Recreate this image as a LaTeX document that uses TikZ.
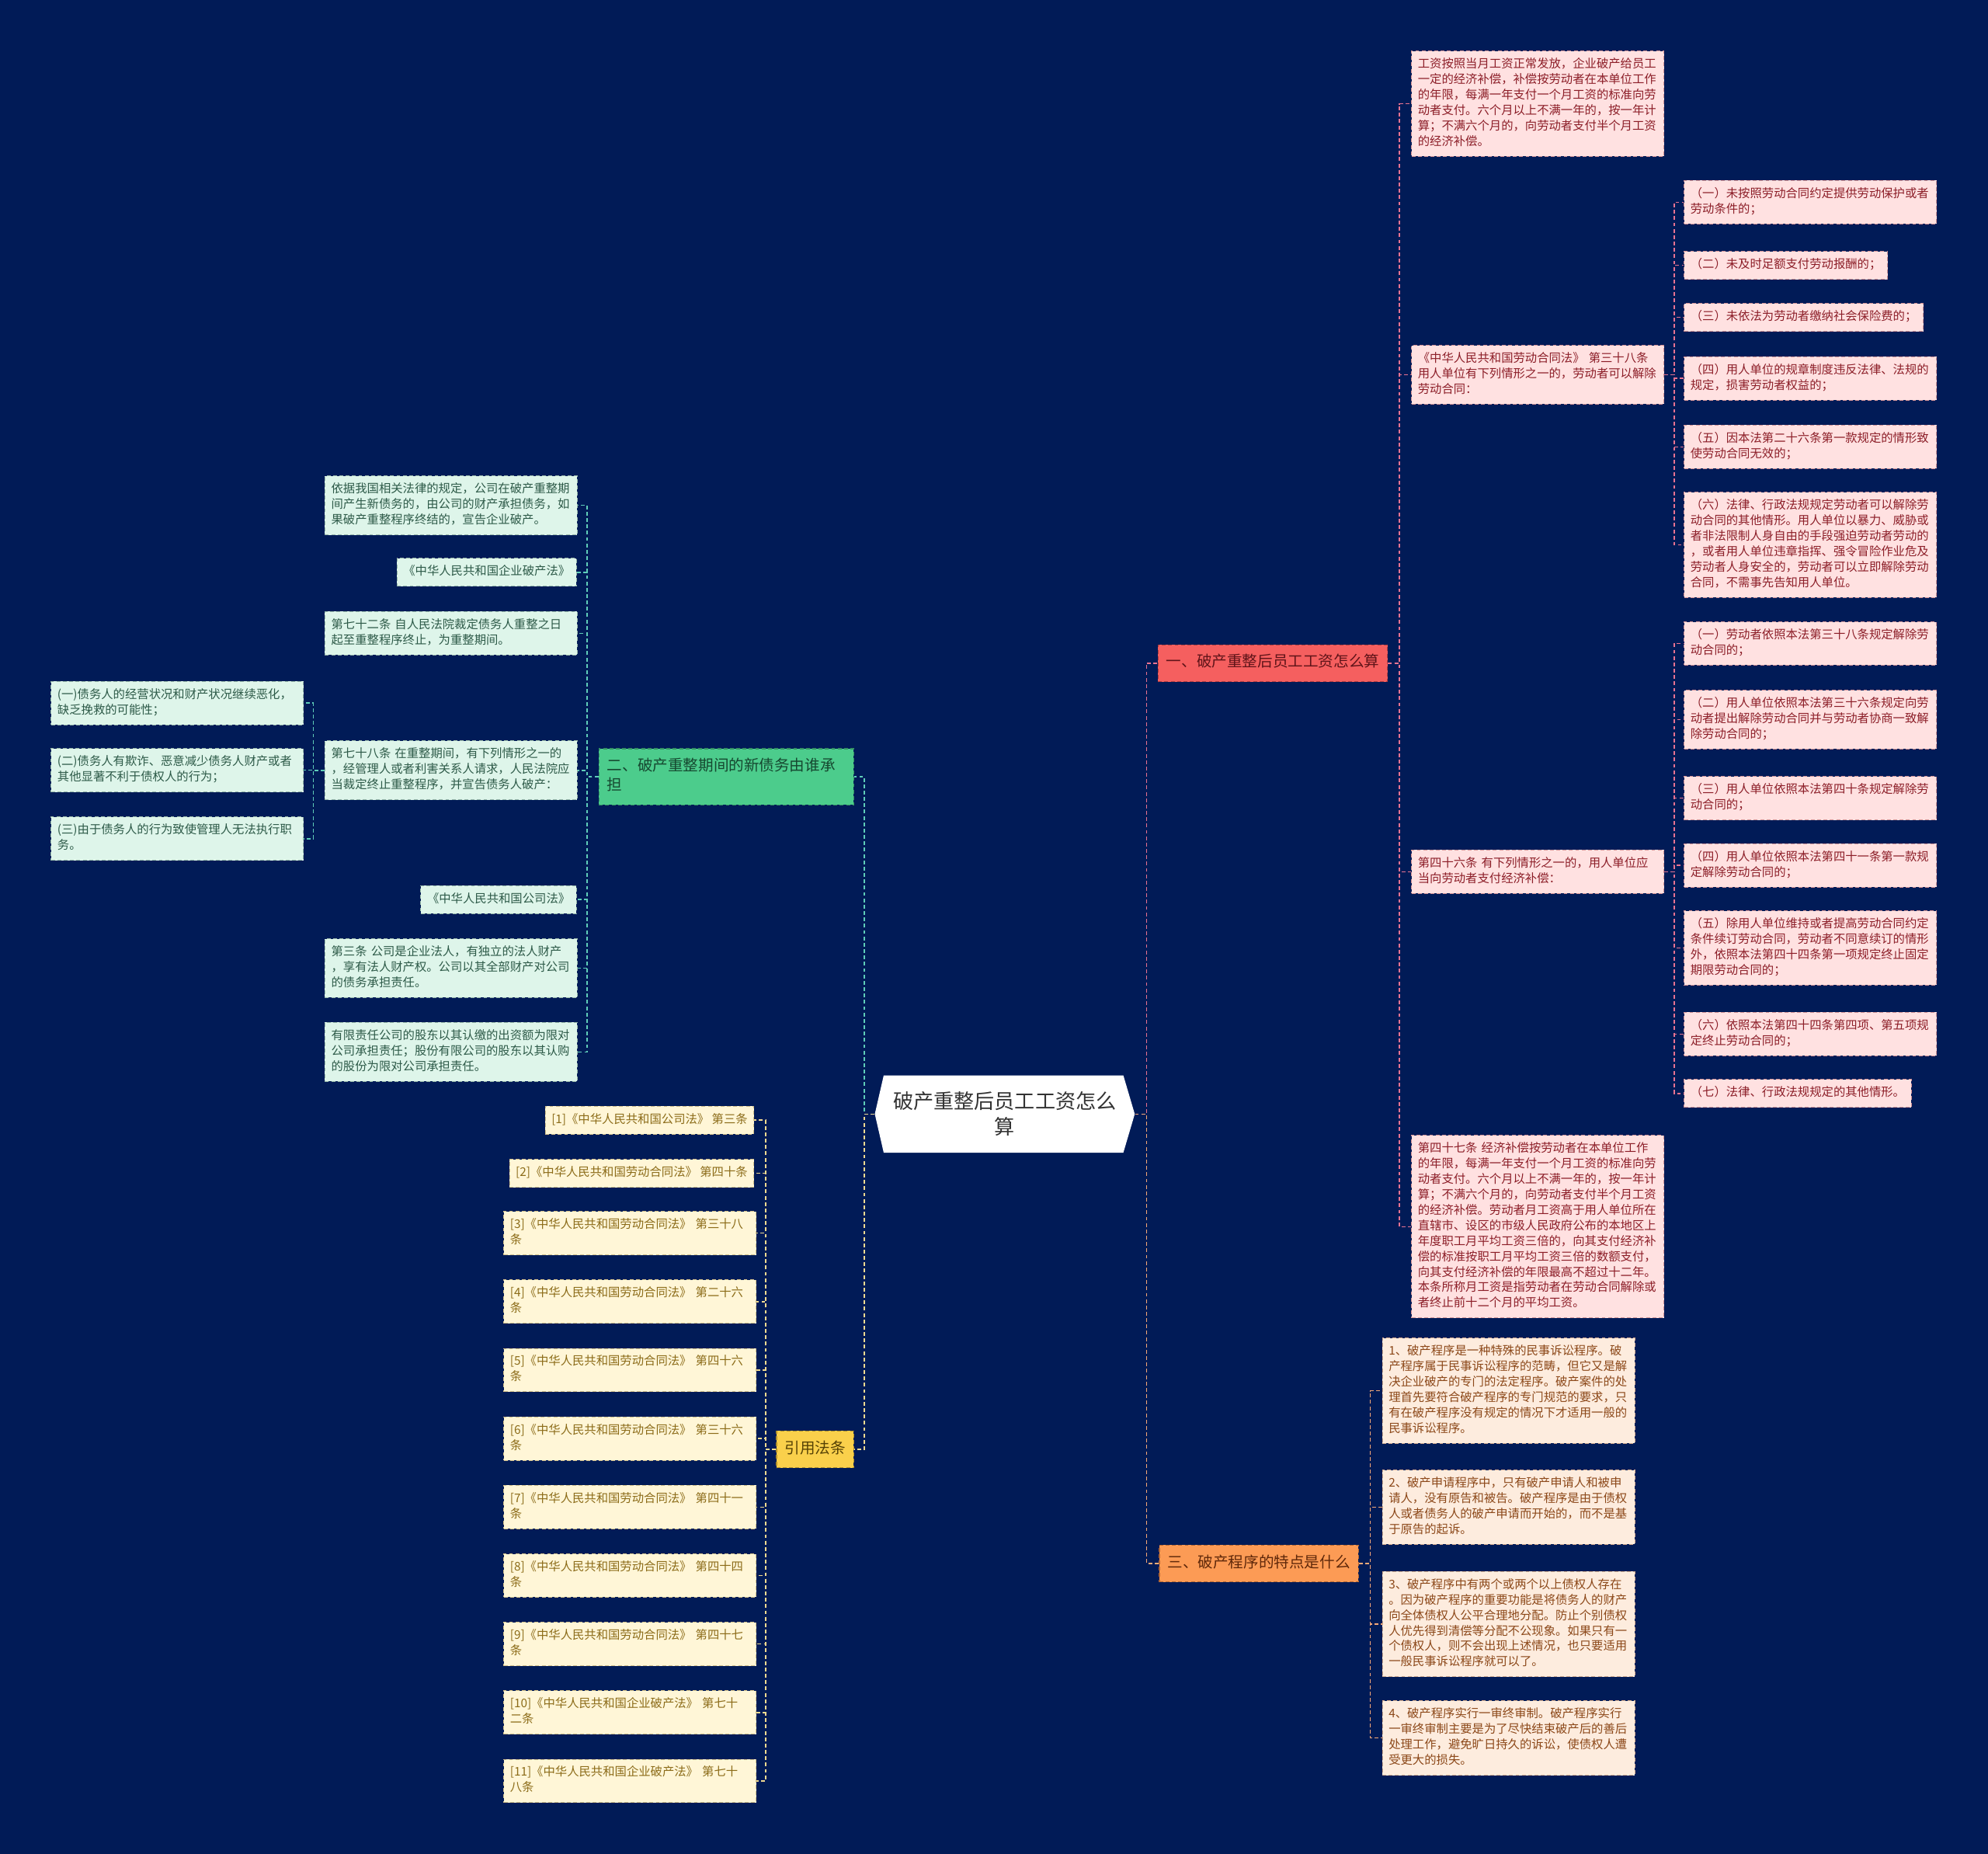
\documentclass[tikz,border=0pt]{standalone}
\usepackage{fontspec}
\newfontfamily\cjk{Noto Sans CJK SC}
\usepackage{tikz}
\usetikzlibrary{positioning}

\definecolor{bgnavy}{RGB}{1,27,87}
\definecolor{redfill}{RGB}{245,95,95}
\definecolor{redtext}{RGB}{95,20,25}
\definecolor{pinkfill}{RGB}{255,225,225}
\definecolor{pinktext}{RGB}{140,30,40}
\definecolor{pinkline}{RGB}{232,115,145}
\definecolor{greenfill}{RGB}{76,204,140}
\definecolor{greentext}{RGB}{22,72,48}
\definecolor{mintfill}{RGB}{222,245,234}
\definecolor{minttext}{RGB}{45,90,72}
\definecolor{greenline}{RGB}{95,205,185}
\definecolor{yellowfill}{RGB}{250,208,75}
\definecolor{yellowtext}{RGB}{85,65,5}
\definecolor{creamfill}{RGB}{255,246,215}
\definecolor{creamtext}{RGB}{140,108,25}
\definecolor{yellowline}{RGB}{240,218,145}
\definecolor{orangefill}{RGB}{252,155,85}
\definecolor{orangetext}{RGB}{95,40,10}
\definecolor{peachfill}{RGB}{253,236,222}
\definecolor{peachtext}{RGB}{140,72,25}
\definecolor{orangeline}{RGB}{246,170,120}

\begin{document}
\begin{tikzpicture}[x=1pt,y=-1pt,
    box/.style={draw,line width=0.6pt,dash pattern=on 3pt off 2pt,inner xsep=5pt,inner ysep=4.9pt,
      anchor=north west,font=\cjk\fontsize{9.4}{12.2}\selectfont,
      execute at begin node=\strut,execute at end node=\strut},
    wide/.style={text width=189pt,align=left},
    pinkbox/.style={box,fill=pinkfill,draw=pinktext!40!pinkfill,text=pinktext},
    mintbox/.style={box,fill=mintfill,draw=minttext!40!mintfill,text=minttext},
    creambox/.style={box,fill=creamfill,draw=creamtext!40!creamfill,text=creamtext},
    peachbox/.style={box,fill=peachfill,draw=peachtext!40!peachfill,text=peachtext},
    branch/.style={draw,line width=0.8pt,dash pattern=on 3pt off 2pt,inner xsep=6.5pt,inner ysep=6.85pt,
      anchor=west,font=\cjk\fontsize{12}{15.3}\selectfont,
      execute at begin node=\strut,execute at end node=\strut},
    link/.style={line width=0.9pt,dash pattern=on 3pt off 2pt}]

    \fill[bgnavy] (0,0) rectangle (1568,1462);

    % centre
    \fill[white] (697,848) -- (886,848) -- (895,878.5) -- (886,909) -- (697,909) -- (690,878.5) -- cycle;
    \node[font=\cjk\fontsize{16}{20.5}\selectfont,text=black!80,align=center,minimum width=205pt,minimum height=61pt,inner sep=0pt]
      (root) at (792.5,878.5) {破产重整后员工工资怎么\\算};

    % branches
    \node[branch,fill=redfill,draw=redtext!45!redfill,text=redtext] (b1) at (913,523) {一、破产重整后员工工资怎么算};
    \node[branch,fill=greenfill,draw=greentext!45!greenfill,text=greentext,text width=188pt,align=left,anchor=north west]
      (b2) at (472,590) {二、破产重整期间的新债务由谁承\\担};
    \node[branch,fill=orangefill,draw=orangetext!45!orangefill,text=orangetext] (b3) at (914,1233) {三、破产程序的特点是什么};
    \node[branch,fill=yellowfill,draw=yellowtext!45!yellowfill,text=yellowtext] (b4) at (612,1143) {引用法条};

    % branch one
    \node[pinkbox,wide] (wage) at (1113,40) {工资按照当月工资正常发放，企业破产给员工\\一定的经济补偿，补偿按劳动者在本单位工作\\的年限，每满一年支付一个月工资的标准向劳\\动者支付。六个月以上不满一年的，按一年计\\算；不满六个月的，向劳动者支付半个月工资\\的经济补偿。};
    \node[pinkbox,wide] (art38) at (1113,272) {《中华人民共和国劳动合同法》 第三十八条\\用人单位有下列情形之一的，劳动者可以解除\\劳动合同：};
    \node[pinkbox,wide] (art46) at (1113,670) {第四十六条 有下列情形之一的，用人单位应\\当向劳动者支付经济补偿：};
    \node[pinkbox,wide] (art47) at (1113,895) {第四十七条 经济补偿按劳动者在本单位工作\\的年限，每满一年支付一个月工资的标准向劳\\动者支付。六个月以上不满一年的，按一年计\\算；不满六个月的，向劳动者支付半个月工资\\的经济补偿。劳动者月工资高于用人单位所在\\直辖市、设区的市级人民政府公布的本地区上\\年度职工月平均工资三倍的，向其支付经济补\\偿的标准按职工月平均工资三倍的数额支付，\\向其支付经济补偿的年限最高不超过十二年。\\本条所称月工资是指劳动者在劳动合同解除或\\者终止前十二个月的平均工资。};

    \node[pinkbox,wide] (art38a) at (1328,142) {（一）未按照劳动合同约定提供劳动保护或者\\劳动条件的；};
    \node[pinkbox] (art38b) at (1328,198) {（二）未及时足额支付劳动报酬的；};
    \node[pinkbox] (art38c) at (1328,239) {（三）未依法为劳动者缴纳社会保险费的；};
    \node[pinkbox,wide] (art38d) at (1328,281) {（四）用人单位的规章制度违反法律、法规的\\规定，损害劳动者权益的；};
    \node[pinkbox,wide] (art38e) at (1328,335) {（五）因本法第二十六条第一款规定的情形致\\使劳动合同无效的；};
    \node[pinkbox,wide] (art38f) at (1328,388) {（六）法律、行政法规规定劳动者可以解除劳\\动合同的其他情形。用人单位以暴力、威胁或\\者非法限制人身自由的手段强迫劳动者劳动的\\，或者用人单位违章指挥、强令冒险作业危及\\劳动者人身安全的，劳动者可以立即解除劳动\\合同，不需事先告知用人单位。};

    \node[pinkbox,wide] (art46a) at (1328,490) {（一）劳动者依照本法第三十八条规定解除劳\\动合同的；};
    \node[pinkbox,wide] (art46b) at (1328,544) {（二）用人单位依照本法第三十六条规定向劳\\动者提出解除劳动合同并与劳动者协商一致解\\除劳动合同的；};
    \node[pinkbox,wide] (art46c) at (1328,612) {（三）用人单位依照本法第四十条规定解除劳\\动合同的；};
    \node[pinkbox,wide] (art46d) at (1328,665) {（四）用人单位依照本法第四十一条第一款规\\定解除劳动合同的；};
    \node[pinkbox,wide] (art46e) at (1328,718) {（五）除用人单位维持或者提高劳动合同约定\\条件续订劳动合同，劳动者不同意续订的情形\\外，依照本法第四十四条第一项规定终止固定\\期限劳动合同的；};
    \node[pinkbox,wide] (art46f) at (1328,798) {（六）依照本法第四十四条第四项、第五项规\\定终止劳动合同的；};
    \node[pinkbox] (art46g) at (1328,851) {（七）法律、行政法规规定的其他情形。};

    % branch two
    \node[mintbox,wide] (debtA) at (256,375) {依据我国相关法律的规定，公司在破产重整期\\间产生新债务的，由公司的财产承担债务，如\\果破产重整程序终结的，宣告企业破产。};
    \node[mintbox,anchor=north east] (debtB) at (455,440) {《中华人民共和国企业破产法》};
    \node[mintbox,wide] (debtC) at (256,482) {第七十二条 自人民法院裁定债务人重整之日\\起至重整程序终止，为重整期间。};
    \node[mintbox,wide] (debtD) at (256,584) {第七十八条 在重整期间，有下列情形之一的\\，经管理人或者利害关系人请求，人民法院应\\当裁定终止重整程序，并宣告债务人破产：};
    \node[mintbox,anchor=north east] (debtE) at (455,698) {《中华人民共和国公司法》};
    \node[mintbox,wide] (debtF) at (256,740) {第三条 公司是企业法人，有独立的法人财产\\，享有法人财产权。公司以其全部财产对公司\\的债务承担责任。};
    \node[mintbox,wide] (debtG) at (256,806) {有限责任公司的股东以其认缴的出资额为限对\\公司承担责任；股份有限公司的股东以其认购\\的股份为限对公司承担责任。};

    \node[mintbox,wide] (debtD1) at (40,537) {(一)债务人的经营状况和财产状况继续恶化，\\缺乏挽救的可能性；};
    \node[mintbox,wide] (debtD2) at (40,590) {(二)债务人有欺诈、恶意减少债务人财产或者\\其他显著不利于债权人的行为；};
    \node[mintbox,wide] (debtD3) at (40,644) {(三)由于债务人的行为致使管理人无法执行职\\务。};

    % branch three
    \node[peachbox,wide] (proc1) at (1090,1055) {1、破产程序是一种特殊的民事诉讼程序。破\\产程序属于民事诉讼程序的范畴，但它又是解\\决企业破产的专门的法定程序。破产案件的处\\理首先要符合破产程序的专门规范的要求，只\\有在破产程序没有规定的情况下才适用一般的\\民事诉讼程序。};
    \node[peachbox,wide] (proc2) at (1090,1159) {2、破产申请程序中，只有破产申请人和被申\\请人，没有原告和被告。破产程序是由于债权\\人或者债务人的破产申请而开始的，而不是基\\于原告的起诉。};
    \node[peachbox,wide] (proc3) at (1090,1239) {3、破产程序中有两个或两个以上债权人存在\\。因为破产程序的重要功能是将债务人的财产\\向全体债权人公平合理地分配。防止个别债权\\人优先得到清偿等分配不公现象。如果只有一\\个债权人，则不会出现上述情况，也只要适用\\一般民事诉讼程序就可以了。};
    \node[peachbox,wide] (proc4) at (1090,1341) {4、破产程序实行一审终审制。破产程序实行\\一审终审制主要是为了尽快结束破产后的善后\\处理工作，避免旷日持久的诉讼，使债权人遭\\受更大的损失。};

    % citations
    \node[creambox,anchor=north east] (cite1) at (595,872) {[1]《中华人民共和国公司法》 第三条};
    \node[creambox,anchor=north east] (cite2) at (595,914) {[2]《中华人民共和国劳动合同法》 第四十条};
    \node[creambox,wide] (cite3) at (397,955) {[3]《中华人民共和国劳动合同法》 第三十八\\条};
    \node[creambox,wide] (cite4) at (397,1009) {[4]《中华人民共和国劳动合同法》 第二十六\\条};
    \node[creambox,wide] (cite5) at (397,1063) {[5]《中华人民共和国劳动合同法》 第四十六\\条};
    \node[creambox,wide] (cite6) at (397,1117) {[6]《中华人民共和国劳动合同法》 第三十六\\条};
    \node[creambox,wide] (cite7) at (397,1171) {[7]《中华人民共和国劳动合同法》 第四十一\\条};
    \node[creambox,wide] (cite8) at (397,1225) {[8]《中华人民共和国劳动合同法》 第四十四\\条};
    \node[creambox,wide] (cite9) at (397,1279) {[9]《中华人民共和国劳动合同法》 第四十七\\条};
    \node[creambox,wide] (cite10) at (397,1333) {[10]《中华人民共和国企业破产法》 第七十\\二条};
    \node[creambox,wide] (cite11) at (397,1387) {[11]《中华人民共和国企业破产法》 第七十\\八条};

    % connectors
    \draw[link,pinkline] (root.east) -- ++(9,0) |- (b1.west);
    \draw[link,orangeline] (root.east) -- ++(9,0) |- (b3.west);
    \draw[link,greenline] (root.west) -- ++(-8,0) |- (b2.east);
    \draw[link,yellowline] (root.west) -- ++(-8,0) |- (b4.east);

    \draw[link,pinkline] (b1.east) -- ++(9,0) |- (wage.west);
    \draw[link,pinkline] (b1.east) -- ++(9,0) |- (art38.west);
    \draw[link,pinkline] (b1.east) -- ++(9,0) |- (art46.west);
    \draw[link,pinkline] (b1.east) -- ++(9,0) |- (art47.west);
    \draw[link,pinkline] (art38.east) -- ++(8,0) |- (art38a.west);
    \draw[link,pinkline] (art38.east) -- ++(8,0) |- (art38b.west);
    \draw[link,pinkline] (art38.east) -- ++(8,0) |- (art38c.west);
    \draw[link,pinkline] (art38.east) -- ++(8,0) |- (art38d.west);
    \draw[link,pinkline] (art38.east) -- ++(8,0) |- (art38e.west);
    \draw[link,pinkline] (art38.east) -- ++(8,0) |- (art38f.west);
    \draw[link,pinkline] (art46.east) -- ++(8,0) |- (art46a.west);
    \draw[link,pinkline] (art46.east) -- ++(8,0) |- (art46b.west);
    \draw[link,pinkline] (art46.east) -- ++(8,0) |- (art46c.west);
    \draw[link,pinkline] (art46.east) -- ++(8,0) |- (art46d.west);
    \draw[link,pinkline] (art46.east) -- ++(8,0) |- (art46e.west);
    \draw[link,pinkline] (art46.east) -- ++(8,0) |- (art46f.west);
    \draw[link,pinkline] (art46.east) -- ++(8,0) |- (art46g.west);

    \draw[link,greenline] (b2.west) -- ++(-9,0) |- (debtA.east);
    \draw[link,greenline] (b2.west) -- ++(-9,0) |- (debtB.east);
    \draw[link,greenline] (b2.west) -- ++(-9,0) |- (debtC.east);
    \draw[link,greenline] (b2.west) -- ++(-9,0) |- (debtD.east);
    \draw[link,greenline] (b2.west) -- ++(-9,0) |- (debtE.east);
    \draw[link,greenline] (b2.west) -- ++(-9,0) |- (debtF.east);
    \draw[link,greenline] (b2.west) -- ++(-9,0) |- (debtG.east);
    \draw[link,greenline] (debtD.west) -- ++(-9,0) |- (debtD1.east);
    \draw[link,greenline] (debtD.west) -- ++(-9,0) |- (debtD2.east);
    \draw[link,greenline] (debtD.west) -- ++(-9,0) |- (debtD3.east);

    \draw[link,orangeline] (b3.east) -- ++(9,0) |- (proc1.west);
    \draw[link,orangeline] (b3.east) -- ++(9,0) |- (proc2.west);
    \draw[link,orangeline] (b3.east) -- ++(9,0) |- (proc3.west);
    \draw[link,orangeline] (b3.east) -- ++(9,0) |- (proc4.west);

    \draw[link,yellowline] (b4.west) -- ++(-8,0) |- (cite1.east);
    \draw[link,yellowline] (b4.west) -- ++(-8,0) |- (cite2.east);
    \draw[link,yellowline] (b4.west) -- ++(-8,0) |- (cite3.east);
    \draw[link,yellowline] (b4.west) -- ++(-8,0) |- (cite4.east);
    \draw[link,yellowline] (b4.west) -- ++(-8,0) |- (cite5.east);
    \draw[link,yellowline] (b4.west) -- ++(-8,0) |- (cite6.east);
    \draw[link,yellowline] (b4.west) -- ++(-8,0) |- (cite7.east);
    \draw[link,yellowline] (b4.west) -- ++(-8,0) |- (cite8.east);
    \draw[link,yellowline] (b4.west) -- ++(-8,0) |- (cite9.east);
    \draw[link,yellowline] (b4.west) -- ++(-8,0) |- (cite10.east);
    \draw[link,yellowline] (b4.west) -- ++(-8,0) |- (cite11.east);
\end{tikzpicture}
\end{document}
